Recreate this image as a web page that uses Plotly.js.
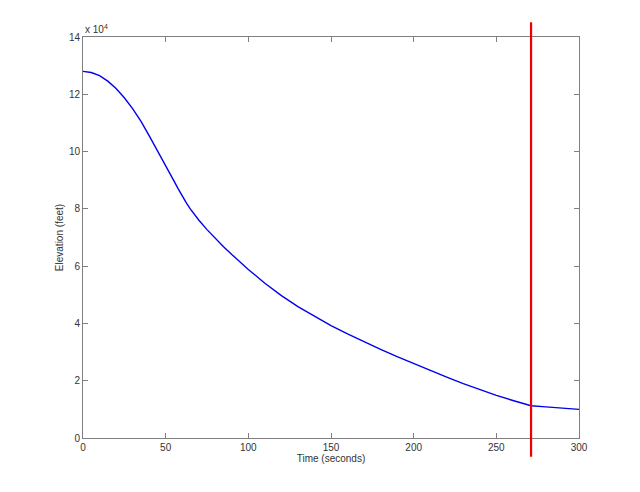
<!DOCTYPE html>
<html>
<head>
<meta charset="utf-8">
<script src="https://cdn.plot.ly/plotly-3.0.1.min.js"></script>
<style>html,body{margin:0;padding:0;background:#fff;}#chart{width:640px;height:492px;}</style>
</head>
<body>
<div id="chart"></div>
<script>
// Time (seconds)
const timeSec = [0,5,10,15,20,25,30,35,40,45,50,55,57.5,60,62.5,65,67.5,70,75,80,85,90,95,100,110,120,130,140,150,160,170,180,190,200,210,220,230,240,250,260,270,271,280,290,300];
// Elevation (feet)
const elevationFt = [128000,127600,126500,124600,122000,118800,115000,110600,105600,100500,95300,89800,87040,84440,82060,79910,77940,76100,72750,69700,66800,64050,61400,58850,54050,49700,45850,42400,39250,36350,33600,30950,28400,25950,23600,21250,19000,16850,14900,13100,11400,11250,10850,10400,10000];
// Vertical marker time
const markerTime = 271;
const xTicks = [0,50,100,150,200,250,300];
const yTickVals = [0,20000,40000,60000,80000,100000,120000,140000];
const yTickText = ['0','2','4','6','8','10','12','14'];

const axisCommon = {
  showgrid: false, zeroline: false,
  showline: true, linecolor: '#7f7f7f', linewidth: 1,
  mirror: 'ticks', ticks: 'inside', ticklen: 5, tickcolor: '#7f7f7f',
  tickfont: {family: 'Liberation Sans, Arial, sans-serif', size: 10, color: '#333'}
};

const traces = [{
  x: timeSec, y: elevationFt, type: 'scatter', mode: 'lines',
  line: {color: '#0000ee', width: 1.4}, hoverinfo: 'skip'
}];

const layout = {
  width: 640, height: 492,
  margin: {l: 83, r: 61, t: 37, b: 54},
  paper_bgcolor: '#fff', plot_bgcolor: '#fff',
  showlegend: false,
  xaxis: Object.assign({}, axisCommon, {
    range: [0, 300], tickvals: xTicks,
    title: {text: 'Time (seconds)', standoff: 2, font: {family: 'Liberation Sans, Arial, sans-serif', size: 10, color: '#333'}}
  }),
  yaxis: Object.assign({}, axisCommon, {
    range: [0, 140000], tickvals: yTickVals, ticktext: yTickText,
    title: {text: 'Elevation (feet)', standoff: 3, font: {family: 'Liberation Sans, Arial, sans-serif', size: 10, color: '#333'}}
  }),
  shapes: [{
    type: 'line', xref: 'x', yref: 'paper',
    x0: markerTime, x1: markerTime, y0: -0.047, y1: 1.037,
    line: {color: '#ee0000', width: 2.2}
  }],
  annotations: [{
    xref: 'paper', yref: 'paper', x: 0, y: 1, xanchor: 'left', yanchor: 'bottom',
    showarrow: false,
    text: 'x 10<sup>4</sup>',
    font: {family: 'Liberation Sans, Arial, sans-serif', size: 10, color: '#333'}
  }]
};

Plotly.newPlot('chart', traces, layout, {displayModeBar: false, staticPlot: true});
</script>
</body>
</html>
